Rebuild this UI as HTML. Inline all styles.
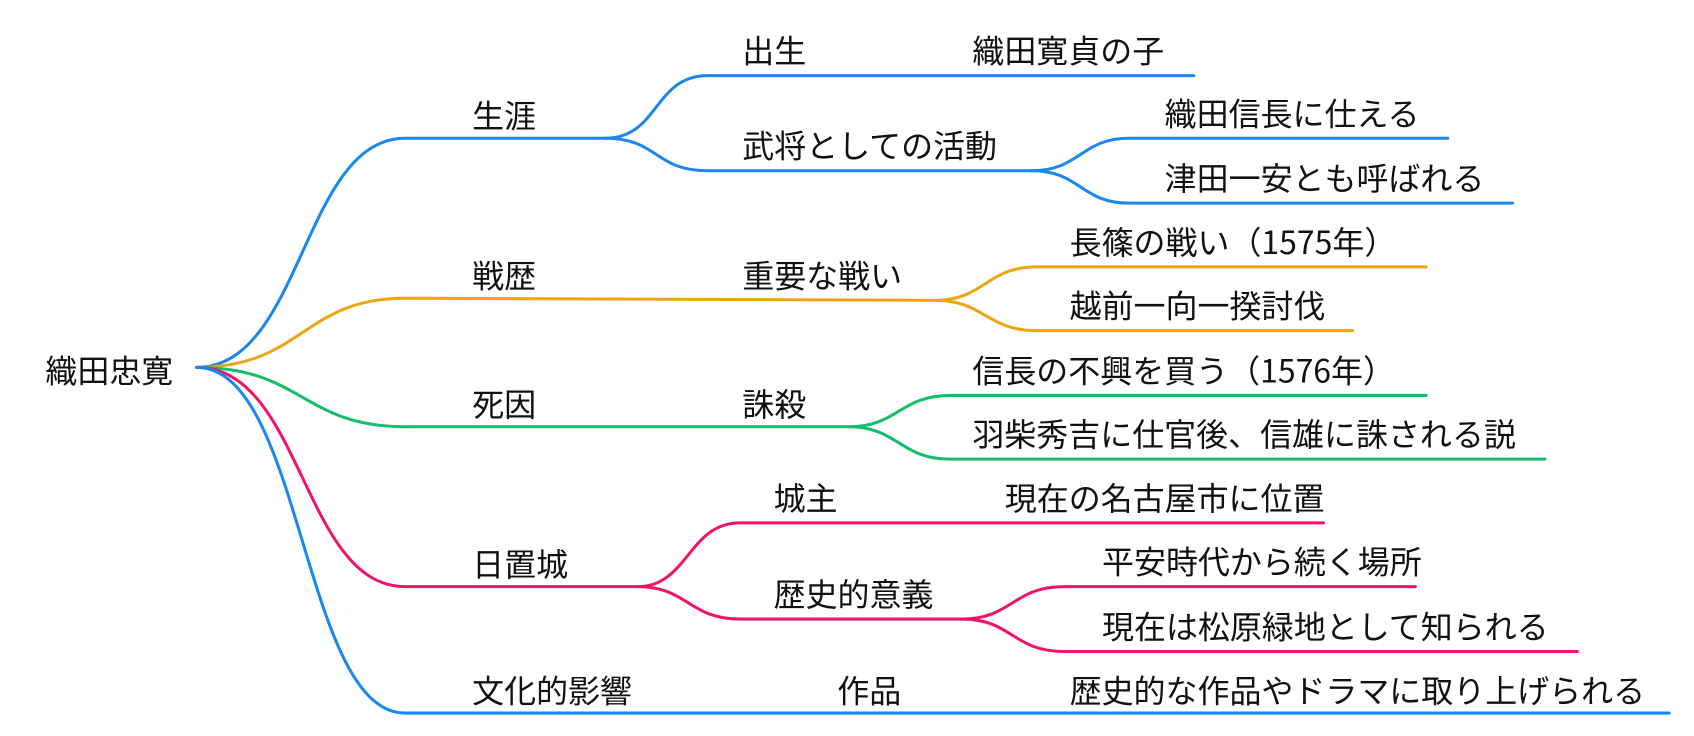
<!DOCTYPE html>
<html><head><meta charset="utf-8"><style>
html,body{margin:0;padding:0;background:#fff;}
svg{display:block}
text{font-family:"Noto Sans CJK JP","Liberation Sans",sans-serif;font-size:29.6px;fill:#111;}
path{fill:none;stroke-width:2.8;stroke-linecap:round}
.b{stroke:#1a87f0}.o{stroke:#eea512}.g{stroke:#15bc6c}.p{stroke:#f0136c}
</style></head><body>
<svg width="1694" height="736" viewBox="0 0 1694 736">
<g transform="scale(1.0804)">
<g transform="translate(0,2)">
<text x="42" y="352">織田忠寛</text>
<text x="437" y="116">生涯</text>
<text x="687" y="56">出生</text><text x="900" y="56">織田寛貞の子</text>
<text x="687" y="144">武将としての活動</text>
<text x="1078" y="114">織田信長に仕える</text>
<text x="1078" y="174">津田一安とも呼ばれる</text>
<text x="437" y="264">戦歴</text><text x="687" y="264">重要な戦い</text>
<text x="990" y="233">長篠の戦い（1575年）</text>
<text x="990" y="292">越前一向一揆討伐</text>
<text x="437" y="383">死因</text><text x="687" y="383">誅殺</text>
<text x="900" y="352">信長の不興を買う（1576年）</text>
<text x="900" y="411">羽柴秀吉に仕官後、信雄に誅される説</text>
<text x="437" y="531">日置城</text>
<text x="716" y="470">城主</text><text x="930" y="470">現在の名古屋市に位置</text>
<text x="716" y="559">歴史的意義</text>
<text x="1020" y="529">平安時代から続く場所</text>
<text x="1020" y="589">現在は松原緑地として知られる</text>
<text x="437" y="648">文化的影響</text><text x="775" y="648">作品</text>
<text x="990" y="648">歴史的な作品やドラマに取り上げられる</text>
</g>
<path class="b" d="M182 340 C280 340 280 128 375 128 L560 128"/>
<path class="b" d="M560 128 C610 128 605 70 655 70 L1105 70"/>
<path class="b" d="M560 128 C610 128 605 158 655 158 L955 158"/>
<path class="b" d="M955 158 C1000 158 1000 128 1045 128 L1340 128"/>
<path class="b" d="M955 158 C1000 158 1000 188 1045 188 L1400 188"/>
<path class="o" d="M182 340 C280 340 280 276 375 276 L865 278"/>
<path class="o" d="M865 278 C912 278 912 247 960 247 L1320 247"/>
<path class="o" d="M865 278 C912 278 912 306 960 306 L1252 306"/>
<path class="g" d="M182 340 C280 340 280 395 375 395 L785 395"/>
<path class="g" d="M785 395 C832 395 832 366 880 366 L1320 366"/>
<path class="g" d="M785 395 C832 395 832 425 880 425 L1430 425"/>
<path class="p" d="M182 340 C280 340 280 543 375 543 L590 543"/>
<path class="p" d="M590 543 C637 543 637 484 685 484 L1225 484"/>
<path class="p" d="M590 543 C637 543 637 573 685 573 L890 573"/>
<path class="p" d="M890 573 C937 573 937 543 985 543 L1310 543"/>
<path class="p" d="M890 573 C937 573 937 603 985 603 L1460 603"/>
<path class="b" d="M182 340 C280 340 280 660 375 660 L1545 660"/>
</g>
</svg>
</body></html>
